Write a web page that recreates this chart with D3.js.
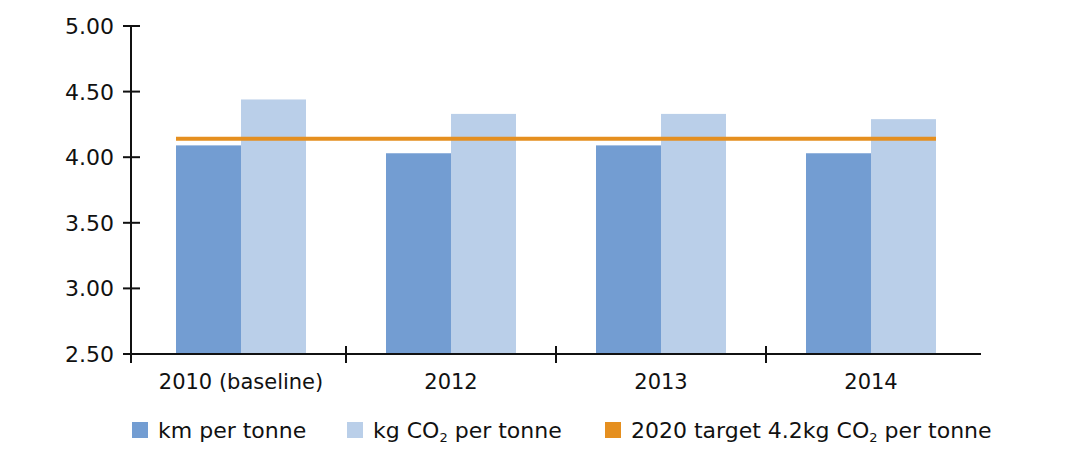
<!DOCTYPE html>
<html>
<head>
<meta charset="utf-8">
<script src="https://cdn.jsdelivr.net/npm/d3@7/dist/d3.min.js"></script>
<style>
  body { margin: 0; background: #fff; }
  text { font-family: "DejaVu Sans", sans-serif; fill: #111; }
</style>
</head>
<body>
<svg id="chart" width="1090" height="460"></svg>
<script>
const categories = ['2010 (baseline)', '2012', '2013', '2014'];
const kmPerTonne = [4.09, 4.03, 4.09, 4.03];
const kgCo2PerTonne = [4.44, 4.33, 4.33, 4.29];
const target = 4.14;
const yTicks = [2.5, 3.0, 3.5, 4.0, 4.5, 5.0];

const colors = { km: '#739dd2', kg: '#bacfe9', target: '#e58f1f' };

const svg = d3.select('#chart');

const x = d3.scaleBand()
  .domain(categories)
  .range([136, 976])
  .paddingInner(0)
  .paddingOuter(0);

const y = d3.scaleLinear()
  .domain([2.5, 5])
  .range([354, 26]);

const barW = 65;

// Bars
const groups = svg.selectAll('.grp')
  .data(categories)
  .enter()
  .append('g')
  .attr('class', 'grp');

groups.append('rect')
  .attr('x', d => x(d) + x.bandwidth() / 2 - barW)
  .attr('y', (d, i) => y(kmPerTonne[i]))
  .attr('width', barW)
  .attr('height', (d, i) => y(2.5) - y(kmPerTonne[i]))
  .attr('fill', colors.km);

groups.append('rect')
  .attr('x', d => x(d) + x.bandwidth() / 2)
  .attr('y', (d, i) => y(kgCo2PerTonne[i]))
  .attr('width', barW)
  .attr('height', (d, i) => y(2.5) - y(kgCo2PerTonne[i]))
  .attr('fill', colors.kg);

// Target line
svg.append('line')
  .attr('x1', x(categories[0]) + x.bandwidth() / 2 - barW)
  .attr('x2', x(categories[categories.length - 1]) + x.bandwidth() / 2 + barW)
  .attr('y1', y(target))
  .attr('y2', y(target))
  .attr('stroke', colors.target)
  .attr('stroke-width', 4);

// Y axis
const yAxis = svg.append('g');
yAxis.append('line')
  .attr('x1', 131).attr('x2', 131)
  .attr('y1', y(5)).attr('y2', 363)
  .attr('stroke', '#111').attr('stroke-width', 2);
yAxis.selectAll('.yt')
  .data(yTicks)
  .enter()
  .append('line')
  .attr('x1', 123).attr('x2', 140)
  .attr('y1', d => y(d)).attr('y2', d => y(d))
  .attr('stroke', '#111').attr('stroke-width', 2);
yAxis.selectAll('.yl')
  .data(yTicks)
  .enter()
  .append('text')
  .attr('x', 114)
  .attr('y', d => y(d))
  .attr('dy', '0.36em')
  .attr('text-anchor', 'end')
  .attr('font-size', 22)
  .text(d => d.toFixed(2));

// X axis
const xAxis = svg.append('g');
xAxis.append('line')
  .attr('x1', 131).attr('x2', 981)
  .attr('y1', y(2.5)).attr('y2', y(2.5))
  .attr('stroke', '#111').attr('stroke-width', 2);
xAxis.selectAll('.xt')
  .data(categories.slice(1))
  .enter()
  .append('line')
  .attr('x1', d => x(d)).attr('x2', d => x(d))
  .attr('y1', 346).attr('y2', 363)
  .attr('stroke', '#111').attr('stroke-width', 2);
xAxis.selectAll('.xl')
  .data(categories)
  .enter()
  .append('text')
  .attr('x', d => x(d) + x.bandwidth() / 2)
  .attr('y', 389)
  .attr('text-anchor', 'middle')
  .attr('font-size', 21)
  .text(d => d);

// Legend
const legendItems = [
  { color: colors.km, x: 132, parts: ['km per tonne'] },
  { color: colors.kg, x: 347, parts: ['kg CO', '2', ' per tonne'] },
  { color: colors.target, x: 605, parts: ['2020 target 4.2kg CO', '2', ' per tonne'] }
];

const legend = svg.selectAll('.leg')
  .data(legendItems)
  .enter()
  .append('g')
  .attr('transform', d => `translate(${d.x},422)`);

legend.append('rect')
  .attr('width', 16).attr('height', 16)
  .attr('fill', d => d.color);

legend.each(function (d) {
  const t = d3.select(this).append('text')
    .attr('x', 26).attr('y', 16)
    .attr('font-size', 22);
  d.parts.forEach((p, i) => {
    if (i === 1) {
      t.append('tspan').attr('font-size', 13).attr('dy', 4).text(p);
    } else if (i === 2) {
      t.append('tspan').attr('dy', -4).text(p);
    } else {
      t.append('tspan').text(p);
    }
  });
});
</script>
</body>
</html>
